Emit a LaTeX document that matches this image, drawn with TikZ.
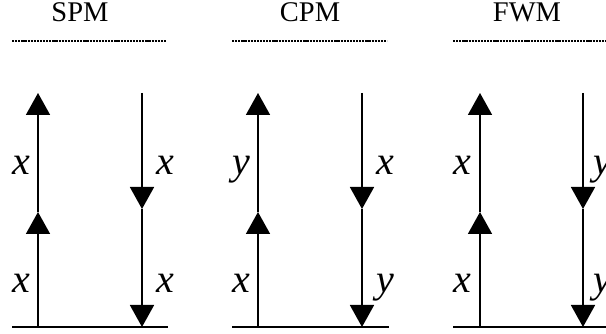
\documentclass[tikz,border=0pt]{standalone}
\usepackage{fontspec}
\setmainfont{Liberation Serif}
\usetikzlibrary{arrows.meta}
\begin{document}
\begin{tikzpicture}[x=1pt,y=-1pt,
  prop/.style={line width=1.6pt,-{Triangle[length=22pt,width=24pt]}},
  base/.style={line width=2pt},
  dotline/.style={line width=2.2pt,dash pattern=on 2.2pt off 0.9pt},
  title/.style={font=\fontsize{28.5}{30}\selectfont,anchor=base},
  lab/.style={font=\fontsize{40}{42}\selectfont\itshape,anchor=base}]
\useasboundingbox (0,0) rectangle (606,334);
\foreach \n/\L/\R/\ds/\de/\t/\tx in {a/38/142/12/166/SPM/80,b/258/362/232/387/CPM/310,c/480/583/453/606/FWM/527}{
  \node[title] (t\n) at (\tx,22) {\t};
  \coordinate (ds\n) at (\ds,41);
  \coordinate (de\n) at (\de,41);
  \draw[dotline] (ds\n) -- (de\n);
  \coordinate (bs\n) at (\ds,327);
  \coordinate (be\n) at (\de+2,327);
  \draw[base] (bs\n) -- (be\n);
  \coordinate (lb\n) at (\L,327);
  \coordinate (lm\n) at (\L,212);
  \coordinate (lt\n) at (\L,93);
  \coordinate (rt\n) at (\R,93);
  \coordinate (rm\n) at (\R,209);
  \coordinate (rb\n) at (\R,327);
  \draw[prop] (lb\n) -- (lm\n);
  \draw[prop] (lm\n) -- (lt\n);
  \draw[prop] (rt\n) -- (rm\n);
  \draw[prop] (rm\n) -- (rb\n);
}
\node[lab] (l1) at (21,175) {x};
\node[lab] (l2) at (21,293) {x};
\node[lab] (l3) at (165,175) {x};
\node[lab] (l4) at (165,293) {x};
\node[lab] (l5) at (241,175) {y};
\node[lab] (l6) at (241,293) {x};
\node[lab] (l7) at (385,175) {x};
\node[lab] (l8) at (385,293) {y};
\node[lab] (l9) at (462,175) {x};
\node[lab] (l10) at (462,293) {x};
\node[lab] (l11) at (602,175) {y};
\node[lab] (l12) at (602,293) {y};
\end{tikzpicture}
\end{document}
